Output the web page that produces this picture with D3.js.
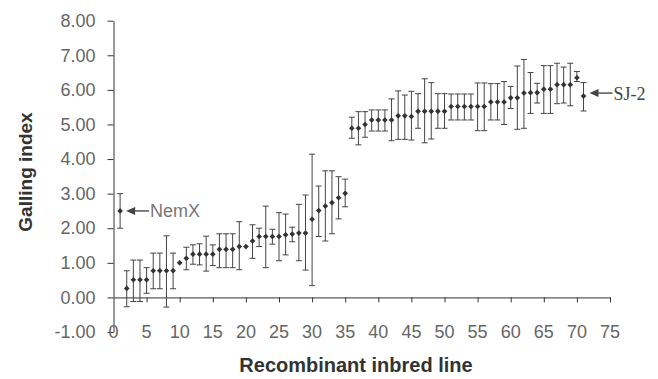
<!DOCTYPE html>
<html>
<head>
<meta charset="utf-8">
<script src="https://cdn.jsdelivr.net/npm/d3@7"></script>
<style>
  body { margin: 0; background: #fff; }
  svg { display: block; }
</style>
</head>
<body>
<svg></svg>
<script>
// recombinant inbred lines (1 = NemX, 71 = SJ-2)
const lines = [1, 2, 3, 4, 5, 6, 7, 8, 9, 10, 11, 12, 13, 14, 15, 16, 17, 18, 19, 20,
  21, 22, 23, 24, 25, 26, 27, 28, 29, 30, 31, 32, 33, 34, 35, 36, 37, 38, 39, 40,
  41, 42, 43, 44, 45, 46, 47, 48, 49, 50, 51, 52, 53, 54, 55, 56, 57, 58, 59, 60,
  61, 62, 63, 64, 65, 66, 67, 68, 69, 70, 71];

const means = [2.50, 0.26, 0.51, 0.51, 0.51, 0.77, 0.77, 0.77, 0.77, 1.00,
  1.13, 1.25, 1.25, 1.25, 1.25, 1.39, 1.39, 1.39, 1.47, 1.47,
  1.63, 1.76, 1.76, 1.76, 1.76, 1.81, 1.83, 1.86, 1.86, 2.26,
  2.51, 2.64, 2.74, 2.88, 3.01, 4.89, 4.89, 5.00, 5.13, 5.13,
  5.13, 5.13, 5.25, 5.25, 5.23, 5.38, 5.38, 5.38, 5.38, 5.38,
  5.52, 5.52, 5.52, 5.52, 5.52, 5.52, 5.65, 5.65, 5.65, 5.77,
  5.77, 5.91, 5.92, 5.92, 6.02, 6.02, 6.15, 6.15, 6.15, 6.35, 5.82];

const lows = [2.00, -0.27, -0.12, -0.12, 0.12, 0.25, 0.25, -0.28, 0.25, 1.00,
  0.80, 0.96, 0.94, 0.76, 0.92, 0.86, 0.86, 0.86, 0.80, 1.47,
  1.13, 1.47, 0.86, 1.54, 1.06, 1.23, 1.61, 1.06, 0.79, 0.34,
  1.76, 1.63, 1.84, 2.27, 2.62, 4.60, 4.41, 4.63, 4.81, 4.81,
  4.81, 4.53, 4.57, 4.57, 4.55, 4.89, 4.47, 4.58, 4.89, 4.89,
  5.13, 5.13, 5.13, 5.13, 4.82, 4.82, 5.13, 5.13, 5.00, 5.46,
  4.86, 4.89, 5.32, 5.62, 5.32, 5.32, 5.60, 5.62, 5.54, 6.24, 5.39];

const highs = [3.00, 0.77, 1.08, 1.08, 0.86, 1.28, 1.28, 1.78, 1.28, 1.00,
  1.45, 1.52, 1.55, 1.77, 1.52, 1.84, 1.84, 1.84, 2.19, 1.47,
  2.10, 2.00, 2.64, 1.97, 2.45, 2.41, 2.03, 2.69, 2.96, 4.14,
  3.22, 3.66, 3.66, 3.49, 3.42, 5.21, 5.37, 5.37, 5.42, 5.42,
  5.42, 5.74, 5.97, 5.85, 5.96, 5.89, 6.32, 6.21, 5.89, 5.89,
  5.88, 5.88, 5.88, 5.88, 6.20, 6.20, 6.18, 6.18, 6.24, 6.10,
  6.69, 6.88, 6.50, 6.19, 6.70, 6.70, 6.77, 6.66, 6.77, 6.53, 6.21];

const xTicks = [0, 5, 10, 15, 20, 25, 30, 35, 40, 45, 50, 55, 60, 65, 70, 75];
const yTicks = [-1, 0, 1, 2, 3, 4, 5, 6, 7, 8];

const parents = [
  { line: 1, label: 'NemX', font: '"Liberation Sans", Arial, sans-serif' },
  { line: 71, label: 'SJ-2', font: '"Liberation Serif", "Times New Roman", serif' }
];

const width = 658, height = 379;
const svg = d3.select('svg').attr('width', width).attr('height', height);

const x = d3.scaleLinear().domain([0, 75]).range([113.5, 610]);
const y = d3.scaleLinear().domain([-1, 8]).range([332, 20.7]);

const data = lines.map((l, i) => ({ line: l, mean: means[i], low: lows[i], high: highs[i] }));

const tickFont = '"Liberation Sans", Arial, sans-serif';
const fmt = d => d3.format('.2f')(d).replace('\u2212', '-');

// y axis
const yAxis = svg.append('g')
  .attr('transform', `translate(${x(0)},0)`)
  .call(d3.axisLeft(y).tickValues(yTicks).tickFormat(fmt).tickSize(6).tickSizeOuter(0).tickPadding(12));
yAxis.select('.domain').attr('stroke', '#333');
yAxis.selectAll('.tick line').attr('stroke', '#333');
yAxis.selectAll('.tick text')
  .attr('fill', '#666').style('font-family', tickFont).style('font-size', '18px');

// x axis: line and ticks at y = 0, labels at the bottom
const xAxis = svg.append('g')
  .attr('transform', `translate(0,${y(0)})`)
  .call(d3.axisBottom(x).tickValues(xTicks.filter(d => d > 0)).tickSize(5).tickSizeOuter(0).tickFormat(''));
xAxis.select('.domain').attr('stroke', '#333');
xAxis.selectAll('.tick line').attr('stroke', '#333');

svg.append('g')
  .selectAll('text')
  .data(xTicks)
  .join('text')
  .attr('x', d => x(d))
  .attr('y', y(-1))
  .attr('dy', '0.35em')
  .attr('text-anchor', 'middle')
  .attr('fill', '#666')
  .style('font-family', tickFont)
  .style('font-size', '18px')
  .text(d => d);

// error bars
const bars = svg.append('g').attr('stroke', '#444').attr('stroke-width', 1);
bars.selectAll('line.v')
  .data(data.filter(d => d.high > d.low))
  .join('line')
  .attr('class', 'v')
  .attr('x1', d => x(d.line)).attr('x2', d => x(d.line))
  .attr('y1', d => y(d.low)).attr('y2', d => y(d.high));
bars.selectAll('line.cap')
  .data(data.filter(d => d.high > d.low).flatMap(d => [{ line: d.line, v: d.low }, { line: d.line, v: d.high }]))
  .join('line')
  .attr('class', 'cap')
  .attr('x1', d => x(d.line) - 3).attr('x2', d => x(d.line) + 3)
  .attr('y1', d => y(d.v)).attr('y2', d => y(d.v));

// markers
svg.append('g')
  .selectAll('path')
  .data(data)
  .join('path')
  .attr('d', d3.symbol(d3.symbolSquare, 16))
  .attr('transform', d => `translate(${x(d.line)},${y(d.mean)}) rotate(45)`)
  .attr('fill', '#333');

// parent annotations
const ann = svg.append('g');
parents.forEach(p => {
  const d = data.find(e => e.line === p.line);
  const x0 = x(d.line) + 6, y0 = y(d.mean) + (p.line === 71 ? -3 : 0);
  ann.append('line')
    .attr('x1', x0 + 6).attr('x2', x0 + 23)
    .attr('y1', y0).attr('y2', y0)
    .attr('stroke', '#555').attr('stroke-width', 1.5);
  ann.append('path')
    .attr('d', `M${x0},${y0}L${x0 + 9},${y0 - 4}L${x0 + 9},${y0 + 4}Z`)
    .attr('fill', '#444');
  ann.append('text')
    .attr('x', x0 + 24)
    .attr('y', y0)
    .attr('dy', '0.36em')
    .attr('fill', p.line === 1 ? '#777' : '#444')
    .style('font-family', p.font)
    .style('font-size', '18px')
    .text(p.label);
});

// axis titles
svg.append('text')
  .attr('x', 356).attr('y', 372)
  .attr('text-anchor', 'middle')
  .attr('fill', '#333')
  .style('font-family', tickFont).style('font-size', '20px').style('font-weight', 'bold')
  .text('Recombinant inbred line');

svg.append('text')
  .attr('transform', 'translate(32,172) rotate(-90)')
  .attr('text-anchor', 'middle')
  .attr('fill', '#333')
  .style('font-family', tickFont).style('font-size', '19px').style('font-weight', 'bold')
  .text('Galling index');
</script>
</body>
</html>
